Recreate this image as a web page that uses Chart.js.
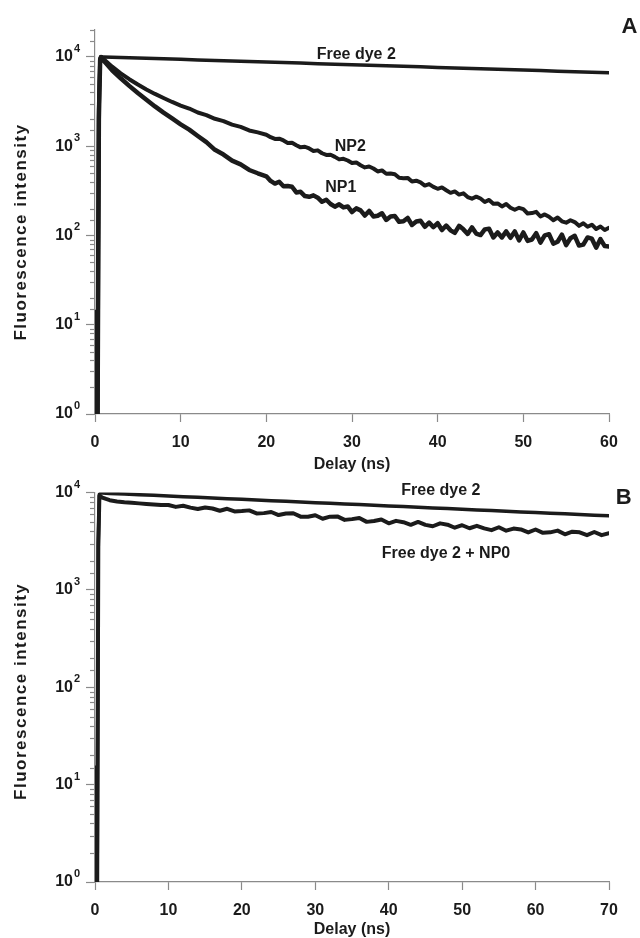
<!DOCTYPE html>
<html>
<head>
<meta charset="utf-8">
<script src="https://cdn.jsdelivr.net/npm/chart.js@4.4.1/dist/chart.umd.min.js"></script>
<style>
html,body{margin:0;padding:0;background:#fff;}
#wrap{position:relative;width:640px;height:938px;overflow:hidden;background:#fff;}
#cA{position:absolute;left:0;top:0;}
#cB{position:absolute;left:0;top:470px;}
</style>
</head>
<body>
<div id="wrap">
<canvas id="cA" width="640" height="475"></canvas>
<canvas id="cB" width="640" height="468"></canvas>
</div>
<script>
// ---------- Panel A data ----------
const timeA = [0, 0.1, 0.2, 0.3, 0.45, 0.6, 0.7, 1, 2, 3, 4, 5, 6, 7, 8, 9,
  10, 11, 12, 13, 14, 15, 16, 17, 18, 19,
  20, 20.5, 21, 21.5, 22, 22.5, 23, 23.5, 24, 24.5, 25, 25.5, 26, 26.5, 27, 27.5, 28, 28.5, 29, 29.5,
  30, 30.5, 31, 31.5, 32, 32.5, 33, 33.5, 34, 34.5, 35, 35.5, 36, 36.5, 37, 37.5, 38, 38.5, 39, 39.5,
  40, 40.5, 41, 41.5, 42, 42.5, 43, 43.5, 44, 44.5, 45, 45.5, 46, 46.5, 47, 47.5, 48, 48.5, 49, 49.5,
  50, 50.5, 51, 51.5, 52, 52.5, 53, 53.5, 54, 54.5, 55, 55.5, 56, 56.5, 57, 57.5, 58, 58.5, 59, 59.5,
  60];
const np2A = [8, 14, 1, 1, 2500, 9500, 10000, 9441, 7762, 6531, 5623, 4898, 4315, 3846, 3467, 3126,
  2851, 2640, 2380, 2230, 2025, 1910, 1745, 1645, 1500, 1425,
  1344, 1261, 1205, 1213, 1159, 1087, 1093, 1025, 970, 985, 942, 884, 897, 833, 797, 801, 759, 711, 722, 691,
  648, 657, 611, 578, 592, 562, 521, 535, 491, 495, 484, 442, 438, 441, 402, 410, 393, 362, 376, 350,
  333, 345, 321, 300, 311, 287, 296, 269, 258, 272, 259, 237, 250, 226, 228, 211, 225, 204, 194, 204,
  197, 176, 178, 184, 163, 172, 162, 148, 159, 144, 139, 148, 141, 128, 137, 125, 132, 118, 126, 115,
  122];
const np1A = [5, 9, 1, 1, 2000, 9300, 10000, 9120, 7079, 5754, 4732, 3936, 3311, 2786, 2371, 2042,
  1758, 1530, 1300, 1110, 910, 805, 688, 625, 541, 497,
  460, 408, 381, 400, 356, 357, 351, 303, 308, 276, 271, 281, 265, 238, 251, 225, 210, 223, 206, 211,
  183, 201, 191, 167, 188, 163, 166, 177, 149, 163, 165, 142, 144, 157, 131, 143, 146, 125, 139, 124,
  137, 115, 129, 114, 107, 128, 117, 104, 123, 105, 101, 117, 119, 95, 108, 95, 111, 94, 111, 88,
  108, 87, 90, 106, 83, 100, 103, 81, 85, 102, 78, 93, 99, 77, 79, 95, 92, 73, 91, 76,
  75];
const timeFreeA = [0, 0.1, 0.2, 0.3, 0.45, 0.6, 0.7, 1, 2, 4, 6, 8, 10, 12, 14, 16, 18, 20, 22, 24, 26, 28,
  30, 32, 34, 36, 38, 40, 42, 44, 46, 48, 50, 52, 54, 56, 58, 60];
const freeDyeA = [12, 6, 1, 1, 3000, 9800, 10000, 9990, 9911, 9775, 9641, 9509, 9378, 9250, 9123, 8998, 8875,
  8753, 8633, 8515, 8398, 8283, 8169, 8057, 7947, 7838, 7731, 7625, 7520, 7417, 7315, 7215, 7116, 7018,
  6922, 6827, 6733, 6641];

// ---------- Panel B data ----------
const timeFreeB = [0, 0.1, 0.2, 0.3, 0.45, 0.6, 0.8, 1, 2, 4, 6, 8, 10, 12, 14, 16, 18, 20, 22, 24, 26, 28,
  30, 32, 34, 36, 38, 40, 42, 44, 46, 48, 50, 52, 54, 56, 58, 60, 62, 64, 66, 68, 70];
const freeDyeB = [10, 4, 1, 1, 3200, 9600, 9908, 9900, 9817, 9665, 9515, 9368, 9222, 9079, 8938, 8800, 8663,
  8529, 8397, 8267, 8138, 8012, 7888, 7766, 7645, 7527, 7410, 7295, 7182, 7071, 6961, 6853, 6747, 6642,
  6539, 6438, 6338, 6240, 6143, 6048, 5954, 5862, 5771];
const timeNP0B = [0, 0.1, 0.2, 0.3, 0.45, 0.6, 0.8, 1, 1.5, 2, 3, 4, 5, 6, 7, 8, 9,
  10, 11, 12, 13, 14, 15, 16, 17, 18, 19, 20, 21, 22, 23, 24, 25, 26, 27, 28, 29,
  30, 31, 32, 33, 34, 35, 36, 37, 38, 39, 40, 41, 42, 43, 44, 45, 46, 47, 48, 49,
  50, 51, 52, 53, 54, 55, 56, 57, 58, 59, 60, 61, 62, 63, 64, 65, 66, 67, 68, 69, 70];
const freeDyeNP0B = [6, 15, 1, 1, 2800, 9300, 9100, 8900, 8600, 8350, 8100, 7950, 7850, 7750, 7650, 7550, 7460,
  7453, 7132, 7322, 7008, 6773, 7024, 6860, 6505, 6821, 6408, 6457, 6567, 6106, 6154, 6322, 5878, 6104, 6144, 5659, 5646,
  5860, 5392, 5657, 5696, 5246, 5340, 5483, 5004, 5100, 5297, 4834, 5126, 4969, 4669, 5000, 4658, 4511, 4831, 4684, 4357,
  4622, 4303, 4560, 4292, 4114, 4405, 4062, 4269, 4184, 3898, 4179, 3862, 3906, 4070, 3727, 3971, 3905, 3654, 3935, 3654,
  3825];

// ---------- Tick labels ----------
const xTicksA = [0, 10, 20, 30, 40, 50, 60];
const xTicksB = [0, 10, 20, 30, 40, 50, 60, 70];
const yTickBase = '10';
const yTickExponents = ['0', '1', '2', '3', '4'];

// ---------- styling ----------
const INK = '#1b1b1b';
const AXIS = '#8a8a8a';
const FONT = "'Liberation Sans', Arial, Helvetica, sans-serif";

function isPow10(v) { const l = Math.log10(v); return Math.abs(l - Math.round(l)) < 1e-9; }

// minor ticks (shorter) + exponent superscripts of the decade labels
const minorTickPlugin = {
  id: 'minorTicks',
  afterDraw(chart) {
    const y = chart.scales.y, ctx = chart.ctx;
    ctx.save();
    ctx.strokeStyle = AXIS; ctx.lineWidth = 1.2;
    y.ticks.forEach(t => {
      if (isPow10(t.value)) return;
      const py = Math.round(y.getPixelForValue(t.value)) + 0.5;
      ctx.beginPath(); ctx.moveTo(y.right - 5, py); ctx.lineTo(y.right, py); ctx.stroke();
    });
    ctx.fillStyle = INK;
    ctx.font = 'bold 11px ' + FONT;
    ctx.textAlign = 'left';
    ctx.textBaseline = 'middle';
    y.ticks.forEach(t => {
      if (!isPow10(t.value)) return;
      const e = yTickExponents[Math.round(Math.log10(t.value))];
      ctx.fillText(e, y.right - 21, y.getPixelForValue(t.value) - 8);
    });
    ctx.restore();
  }
};

function ySpacingPlugin(shift) {
  return {
    id: 'ySpacing',
    beforeDraw(chart) {
      const y = chart.scales.y;
      if (y && !y.__wrapped) {
        const orig = y.drawTitle;
        y.drawTitle = function () {
          const c = this.ctx;
          c.save();
          c.translate(0, shift);
          c.letterSpacing = '1.5px';
          orig.apply(this, arguments);
          c.restore();
        };
        y.__wrapped = true;
      }
    }
  };
}

function notesPlugin(notes) {
  return {
    id: 'notes',
    afterDatasetsDraw(chart) {
      const ctx = chart.ctx, xs = chart.scales.x, ys = chart.scales.y;
      ctx.save();
      ctx.fillStyle = INK;
      ctx.textAlign = 'center';
      ctx.textBaseline = 'middle';
      notes.forEach(n => {
        ctx.font = 'bold ' + n.size + 'px ' + FONT;
        ctx.fillText(n.text, xs.getPixelForValue(n.x), ys.getPixelForValue(n.y));
      });
      ctx.restore();
    }
  };
}

function makeChart(id, cfg) {
  return new Chart(document.getElementById(id), {
    type: 'line',
    data: {
      datasets: cfg.series.map(s => ({
        label: s.label,
        data: s.t.map((t, i) => ({ x: t, y: s.v[i] })),
        borderColor: INK,
        borderWidth: s.w,
        pointRadius: 0,
        tension: 0,
        fill: false,
        borderJoinStyle: 'round',
        borderCapStyle: 'round'
      }))
    },
    options: {
      responsive: false,
      animation: false,
      events: [],
      layout: { padding: { top: cfg.padTop, right: cfg.padRight, left: 0, bottom: 0 } },
      plugins: { legend: { display: false }, tooltip: { enabled: false } },
      scales: {
        x: {
          type: 'linear', min: 0, max: cfg.xMax, position: 'bottom',
          border: { color: AXIS, width: 1.2 },
          grid: { drawOnChartArea: false, drawTicks: true, tickLength: 8, color: AXIS, tickColor: AXIS, tickWidth: 1.2 },
          afterBuildTicks: s => { s.ticks = cfg.xTicks.map(v => ({ value: v })); },
          ticks: { color: INK, font: { family: FONT, size: 16, weight: 'bold' }, padding: 11, maxRotation: 0, autoSkip: false },
          title: { display: true, text: 'Delay (ns)', color: INK, font: { family: FONT, size: 16, weight: 'bold', lineHeight: 1 }, padding: { top: 0, bottom: cfg.xTitlePad } },
          afterFit: s => { s.height = cfg.xHeight; }
        },
        y: {
          type: 'logarithmic', min: 1, max: cfg.yMax, position: 'left',
          border: { color: AXIS, width: 1.2 },
          grid: {
            drawOnChartArea: false, drawTicks: true, tickLength: 9, tickWidth: 1.2,
            tickColor: c => (c.tick && isPow10(c.tick.value)) ? AXIS : 'rgba(0,0,0,0)'
          },
          ticks: {
            autoSkip: false, color: INK, font: { family: FONT, size: 16, weight: 'bold' }, padding: 13,
            callback: v => isPow10(v) ? yTickBase : ''
          },
          title: { display: true, text: 'Fluorescence intensity', color: INK, font: { family: FONT, size: 17, weight: 'bold', lineHeight: 1 }, padding: { top: 13, bottom: 0 } },
          afterFit: s => { s.width = 95; }
        }
      }
    },
    plugins: [minorTickPlugin, ySpacingPlugin(cfg.yTitleShift), notesPlugin(cfg.notes)]
  });
}

makeChart('cA', {
  padTop: 30, padRight: 31, xMax: 60, yMax: 20000, xHeight: 61, xTitlePad: 2, xTicks: xTicksA, yTitleShift: 10,
  series: [
    { label: 'Free dye 2', t: timeFreeA, v: freeDyeA, w: 3.5 },
    { label: 'NP2', t: timeA, v: np2A, w: 4 },
    { label: 'NP1', t: timeA, v: np1A, w: 4.5 }
  ],
  notes: [
    { text: 'Free dye 2', x: 30.5, y: 10740, size: 16 },
    { text: 'NP2', x: 29.8, y: 977, size: 16 },
    { text: 'NP1', x: 28.7, y: 340, size: 16 },
    { text: 'A', x: 62.4, y: 21600, size: 22 }
  ]
});

makeChart('cB', {
  padTop: 22, padRight: 31, xMax: 70, yMax: 10000, xHeight: 56, xTitlePad: 0, xTicks: xTicksB, yTitleShift: 4,
  series: [
    { label: 'Free dye 2', t: timeFreeB, v: freeDyeB, w: 3.5 },
    { label: 'Free dye 2 + NP0', t: timeNP0B, v: freeDyeNP0B, w: 4 }
  ],
  notes: [
    { text: 'Free dye 2', x: 47.1, y: 10490, size: 16 },
    { text: 'Free dye 2 + NP0', x: 47.8, y: 2367, size: 16 },
    { text: 'B', x: 72.0, y: 8890, size: 22 }
  ]
});
</script>
</body>
</html>
